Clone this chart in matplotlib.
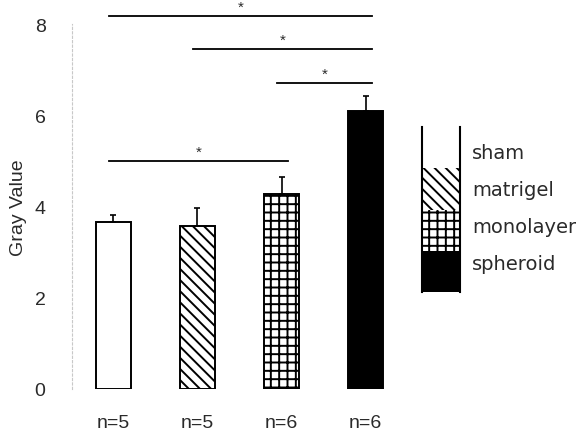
import numpy as np
import matplotlib
matplotlib.use("Agg")
from matplotlib import pyplot as plt

groups = ["sham", "matrigel", "monolayer", "spheroid"]
means = [3.66, 3.57, 4.28, 6.10]
errors = [0.16, 0.40, 0.37, 0.33]
n_labels = ["n=5", "n=5", "n=6", "n=6"]
hatches = ["", "\\\\\\", "++", ""]
faces = ["white", "white", "white", "black"]

# significance brackets: (left group, right group, height)
pairs = [(0, 3), (1, 3), (2, 3), (0, 2)]
heights = [8.18, 7.46, 6.71, 5.0]

plt.rcParams["font.family"] = ["Liberation Sans", "DejaVu Sans"]
plt.rcParams["hatch.linewidth"] = 1.4
text_color = "#2a2a2a"

fig = plt.figure(figsize=(5.84, 4.35), dpi=100)
ax = fig.add_axes([72 / 584, 45 / 435, 330 / 584, 8.5 * 45.6 / 435])

x = np.arange(len(groups))
ax.bar(x, means, width=0.42, color=faces, edgecolor="black", linewidth=1.4,
       hatch=hatches)
ax.errorbar(x, means, yerr=[np.zeros(len(errors)), errors], fmt="none",
            ecolor="black", elinewidth=1.2, capsize=2, capthick=1.2)

for (i, j), h in zip(pairs, heights):
    ax.plot([i - 0.05, j + 0.07], [h, h], color="black", lw=1.3, clip_on=False)
    ax.text((i + j) / 2 + 0.01, h + 0.2, "*", ha="center", va="center",
            fontsize=11, color=text_color, clip_on=False)

ax.set_xlim(-0.49, 3.43)
ax.set_ylim(0, 8.5)
ax.set_yticks([0, 2, 4, 6, 8])
ax.set_xticks(x)
ax.set_xticklabels(n_labels)
ax.tick_params(axis="both", length=0, labelsize=14, colors=text_color)
ax.tick_params(axis="y", pad=19)
ax.tick_params(axis="x", pad=18)
for s in ["top", "right", "bottom"]:
    ax.spines[s].set_visible(False)
ax.spines["left"].set_bounds(0, 8)
ax.spines["left"].set_color("#c8c8c8")
ax.spines["left"].set_linestyle((0, (2, 2)))
ax.spines["left"].set_linewidth(0.8)
ax.set_ylabel("Gray Value", fontsize=14, color=text_color)
ax.yaxis.set_label_coords(-0.135, 0.47)

# legend drawn as a stacked column
lax = fig.add_axes([422 / 584, (435 - 293) / 435, 38 / 584, 165 / 435])
rows = np.arange(len(groups))[::-1]
lax.bar(np.zeros(len(groups)), np.ones(len(groups)), bottom=rows, width=1.0,
        color=faces, edgecolor="black", linewidth=0, hatch=hatches, align="center")
lax.set_xlim(-0.5, 0.5)
lax.set_ylim(0, 4)
lax.set_xticks([])
lax.set_yticks([])
for s in ["top", "bottom"]:
    lax.spines[s].set_visible(False)
for s in ["left", "right"]:
    lax.spines[s].set_linewidth(1.5)
label_y = np.linspace(3.38, 0.7, len(groups))
for name, yy in zip(groups, label_y):
    lax.text(0.82, yy, name, ha="left", va="center", fontsize=14,
             family="DejaVu Sans", color=text_color, clip_on=False)

fig.savefig("out.png", dpi=100)
